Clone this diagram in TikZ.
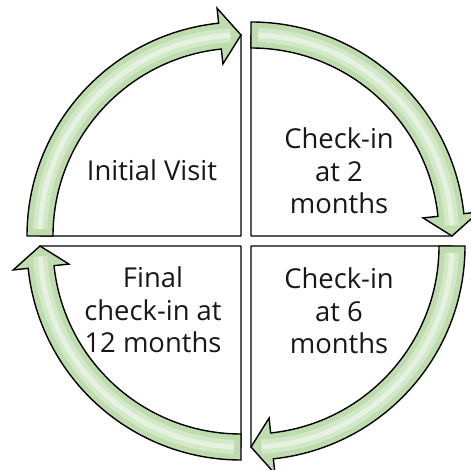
\documentclass[tikz,border=0pt]{standalone}
\usepackage{fontspec}
\setmainfont{Open Sans}
\definecolor{arrowgreen}{HTML}{BFDCAE}
\definecolor{arrowlight}{HTML}{D3E8C8}
\definecolor{textgray}{HTML}{181818}
\tikzset{
  quadrant/.style={draw=black, line width=1.3bp, fill=white},
  cyclearrow/.style={draw=black, line width=1.4bp, line join=miter, fill=arrowgreen},
  glow/.style={draw=arrowlight, line width=14bp},
  shine/.style={draw=white, line width=5bp, opacity=0.45},
  phaselabel/.style={align=center, text=textgray, font=\fontsize{27.5}{32.5}\selectfont}
}
\begin{document}
\begin{tikzpicture}[x=1bp, y=1bp, line cap=butt, line join=round]
  \useasboundingbox (0,0) rectangle (471,470);
  \clip (0,0) rectangle (471,470);

  \coordinate (TL) at (241,234);
  \coordinate (TR) at (251,234);
  \coordinate (BR) at (251,224);
  \coordinate (BL) at (241,224);

  % quadrants
  \draw[quadrant] (TL) -- ++(180:201) arc[start angle=180, end angle=90, radius=201] -- cycle;
  \draw[quadrant] (TR) -- ++(90:201) arc[start angle=90, end angle=0, radius=201] -- cycle;
  \draw[quadrant] (BR) -- ++(0:201) arc[start angle=360, end angle=270, radius=201] -- cycle;
  \draw[quadrant] (BL) -- ++(270:201) arc[start angle=270, end angle=180, radius=201] -- cycle;

  % arrows
  \begin{scope}[shift={(TL)}]
    \draw[cyclearrow] (180:214) arc[start angle=180, end angle=96, radius=214] -- (96:229) -- (90:201)
      -- (96:173) -- (96:188) arc[start angle=96, end angle=180, radius=188] -- cycle;
    \draw[glow] (178:201) arc[start angle=178, end angle=93, radius=201];
    \draw[shine] (178:201) arc[start angle=178, end angle=93, radius=201];
  \end{scope}
  \begin{scope}[shift={(TR)}]
    \draw[cyclearrow] (90:214) arc[start angle=90, end angle=6, radius=214] -- (6:229) -- (0:201)
      -- (6:173) -- (6:188) arc[start angle=6, end angle=90, radius=188] -- cycle;
    \draw[glow] (88:201) arc[start angle=88, end angle=3, radius=201];
    \draw[shine] (88:201) arc[start angle=88, end angle=3, radius=201];
  \end{scope}
  \begin{scope}[shift={(BR)}]
    \draw[cyclearrow] (360:214) arc[start angle=360, end angle=276, radius=214] -- (276:229) -- (270:201)
      -- (276:173) -- (276:188) arc[start angle=276, end angle=360, radius=188] -- cycle;
    \draw[glow] (358:201) arc[start angle=358, end angle=273, radius=201];
    \draw[shine] (358:201) arc[start angle=358, end angle=273, radius=201];
  \end{scope}
  \begin{scope}[shift={(BL)}]
    \draw[cyclearrow] (270:214) arc[start angle=270, end angle=186, radius=214] -- (186:229) -- (180:201)
      -- (186:173) -- (186:188) arc[start angle=186, end angle=270, radius=188] -- cycle;
    \draw[glow] (268:201) arc[start angle=268, end angle=183, radius=201];
    \draw[shine] (268:201) arc[start angle=268, end angle=183, radius=201];
  \end{scope}

  % labels
  \node[phaselabel] (visit) at (152,300) {Initial Visit};
  \node[phaselabel] (month2) at (339,299) {Check-in\\at 2\\months};
  \node[phaselabel] (month6) at (339,159) {Check-in\\at 6\\months};
  \node[phaselabel] (month12) at (153,160) {Final\\check-in at\\12 months};
\end{tikzpicture}
\end{document}
